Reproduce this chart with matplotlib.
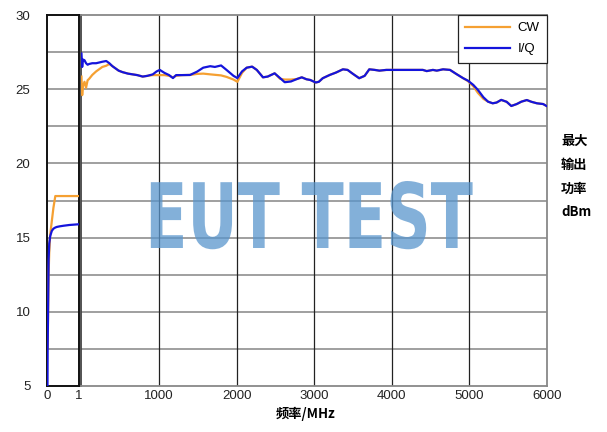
import numpy as np
import matplotlib
matplotlib.use("Agg")
import matplotlib.pyplot as plt
from matplotlib.patheffects import AbstractPathEffect
from matplotlib.transforms import Affine2D

# ---------------- data ----------------
freq_low = [0, 0.015, 0.02, 0.05, 0.07, 0.1, 0.15, 0.2, 0.26, 0.31, 0.4, 0.52, 0.7, 1.0]
cw_low   = [7.5, 7.5, 7.6, 12.5, 14.0, 15.2, 16.1, 17.0, 17.8, 17.8, 17.8, 17.8, 17.8, 17.8]
iq_low   = [5.0, 5.0, 7.4, 13.5, 14.6, 15.1, 15.45, 15.6, 15.68, 15.72, 15.76, 15.8, 15.85, 15.9]

freq_main = [1, 10, 20, 40, 60, 80, 100, 140, 190, 230, 270, 320, 360, 400, 440, 480, 530,
             600, 660, 720, 790, 850, 920, 970, 1010, 1070, 1130, 1180, 1220, 1300, 1400,
             1490, 1570, 1660, 1720, 1800, 1870, 1960, 2010, 2070, 2130, 2200, 2260, 2340,
             2400, 2490, 2560, 2620, 2700, 2770, 2840, 2900, 2950, 3020, 3060, 3110, 3200,
             3280, 3370, 3430, 3500, 3580, 3650, 3710, 3780, 3840, 3930, 4100, 4400, 4450,
             4530, 4580, 4660, 4750, 4830, 4920, 4980, 5050, 5110, 5180, 5240, 5300, 5350,
             5410, 5480, 5540, 5610, 5670, 5740, 5800, 5870, 5950, 6000]
iq_main = [27.4, 26.5, 27.0, 26.95, 26.75, 26.65, 26.7, 26.75, 26.75, 26.8, 26.85, 26.9, 26.75,
           26.55, 26.4, 26.25, 26.15, 26.05, 26.0, 25.95, 25.85, 25.9, 26.0, 26.2, 26.3, 26.1,
           25.95, 25.75, 25.95, 25.95, 25.96, 26.18, 26.45, 26.55, 26.5, 26.6, 26.3, 25.9,
           25.75, 26.2, 26.45, 26.52, 26.3, 25.8, 25.85, 26.07, 25.75, 25.47, 25.52, 25.67,
           25.8, 25.67, 25.62, 25.45, 25.5, 25.74, 25.96, 26.12, 26.34, 26.3, 26.03, 25.74,
           25.9, 26.34, 26.3, 26.25, 26.3, 26.3, 26.3, 26.22, 26.3, 26.25, 26.34, 26.3, 26.03,
           25.74, 25.58, 25.29, 24.95, 24.46, 24.16, 24.05, 24.1, 24.28, 24.15, 23.87, 24.0,
           24.16, 24.27, 24.15, 24.05, 24.0, 23.85]
cw_main = [25.85, 24.6, 25.2, 25.5, 25.1, 25.6, 25.7, 25.96, 26.2, 26.35, 26.5, 26.58, 26.7,
           26.55, 26.4, 26.25, 26.15, 26.05, 26.0, 25.95, 25.85, 25.9, 25.95, 25.95, 25.95, 25.95,
           25.9, 25.8, 25.9, 25.95, 25.96, 26.03, 26.05, 26.0, 25.97, 25.93, 25.83, 25.65,
           25.5, 26.1, 26.45, 26.52, 26.3, 25.8, 25.85, 26.07, 25.7, 25.65, 25.65, 25.68,
           25.8, 25.67, 25.62, 25.45, 25.5, 25.74, 25.96, 26.12, 26.34, 26.3, 26.03, 25.74,
           25.9, 26.34, 26.3, 26.25, 26.3, 26.3, 26.3, 26.22, 26.3, 26.25, 26.34, 26.3, 26.03,
           25.74, 25.55, 25.2, 24.75, 24.35, 24.16, 24.05, 24.1, 24.28, 24.15, 23.87, 24.0,
           24.16, 24.27, 24.15, 24.05, 24.0, 23.85]

yticks_major = [5, 10, 15, 20, 25, 30]
xticks_low = [0, 1]
xticks_main = [1000, 2000, 3000, 4000, 5000, 6000]
series_labels = ["CW", "I/Q"]
xlabel = "频率/MHz"
ylabel_lines = ["最大", "输出", "功率", "dBm"]
watermark = "EUT TEST"

# ---------------- style ----------------
W, H = 607, 432
CW_COLOR = "#f5a032"
IQ_COLOR = "#1414dc"
TICK_FONT = ["Liberation Sans", "DejaVu Sans"]
CJK_FONT = ["Noto Sans CJK SC", "DejaVu Sans"]

fig = plt.figure(figsize=(W / 100, H / 100), dpi=100)
fig.patch.set_facecolor("white")

def fx(px):
    return px / W

def fy(py):
    return 1 - py / H


class HorizontalSqueeze(AbstractPathEffect):
    """Draw the text path compressed horizontally around a fixed figure x."""
    def __init__(self, sx, xfrac):
        super().__init__()
        self.sx = sx
        self.xfrac = xfrac

    def draw_path(self, renderer, gc, tpath, affine, rgbFace=None):
        cx = self.xfrac * renderer.width
        squeeze = Affine2D().translate(-cx, 0).scale(self.sx, 1).translate(cx, 0)
        renderer.draw_path(gc, tpath, affine + squeeze, rgbFace)


top_px, bot_px = 15, 386
ax_low = fig.add_axes([fx(47), fy(bot_px), fx(79) - fx(47), fy(top_px) - fy(bot_px)])
ax_main = fig.add_axes([fx(81.4), fy(bot_px), fx(547) - fx(81.4), fy(top_px) - fy(bot_px)])

grid_y = np.arange(5, 30.01, 2.5)

for ax in (ax_low, ax_main):
    ax.set_ylim(5, 30)
    for gy in grid_y[1:-1]:
        ax.axhline(gy, color="#858585", lw=1.1, zorder=1)

# left (low-frequency) panel
ax_low.set_xlim(0, 1)
ax_low.plot(freq_low, cw_low, color=CW_COLOR, lw=1.6, zorder=3)
ax_low.plot(freq_low, iq_low, color=IQ_COLOR, lw=1.6, zorder=4)
ax_low.set_yticks(yticks_major)
ax_low.set_yticklabels([str(v) for v in yticks_major], family=TICK_FONT, fontsize=9.5, color="#222")
ax_low.set_xticks(xticks_low)
ax_low.set_xticklabels([str(v) for v in xticks_low], family=TICK_FONT, fontsize=9.5, color="#222")
ax_low.tick_params(axis="y", length=0, pad=12)
ax_low.tick_params(axis="x", length=0, pad=3)
for s in ax_low.spines.values():
    s.set_color("#111")
    s.set_linewidth(1.4)

# main panel
ax_main.set_xlim(0, 6000)
for gx in xticks_main[:-1]:
    ax_main.axvline(gx, color="#222", lw=0.9, zorder=1)
ax_main.plot(freq_main, cw_main, color=CW_COLOR, lw=1.6, zorder=3, label=series_labels[0])
ax_main.plot(freq_main, iq_main, color=IQ_COLOR, lw=1.6, zorder=4, label=series_labels[1])
ax_main.set_yticks([])
ax_main.set_xticks(xticks_main)
ax_main.set_xticklabels([str(v) for v in xticks_main], family=TICK_FONT, fontsize=9.5, color="#222")
ax_main.tick_params(axis="x", length=0, pad=3)
for name, s in ax_main.spines.items():
    s.set_color("#888" if name != "left" else "#444")
    s.set_linewidth(1.3)

leg = ax_main.legend(loc="upper right", frameon=True, fancybox=False, framealpha=1,
                     edgecolor="#222", fontsize=9.5, handlelength=3.4, borderaxespad=0,
                     borderpad=0.55, labelspacing=0.65, handletextpad=0.6,
                     prop={"family": TICK_FONT, "size": 9.5})
leg.get_frame().set_linewidth(0.9)

# axis labels
fig.text(fx(306), fy(414), xlabel, ha="center", va="center", fontsize=9.5,
         fontweight="bold", family=CJK_FONT)
for i, line in enumerate(ylabel_lines):
    fig.text(fx(561), fy(141 + 23.7 * i), line, ha="left", va="center", fontsize=9.5,
             fontweight="bold", family=CJK_FONT)

# watermark (real text, drawn horizontally condensed)
wm_x = fx(309)
fig.text(wm_x, fy(248), watermark, ha="center", va="baseline", fontsize=65,
         color="#5a96cd", alpha=0.75, fontweight="bold",
         family=["DejaVu Sans"], zorder=10,
         path_effects=[HorizontalSqueeze(0.686, wm_x)])

fig.savefig("out.png", dpi=100, facecolor="white")
